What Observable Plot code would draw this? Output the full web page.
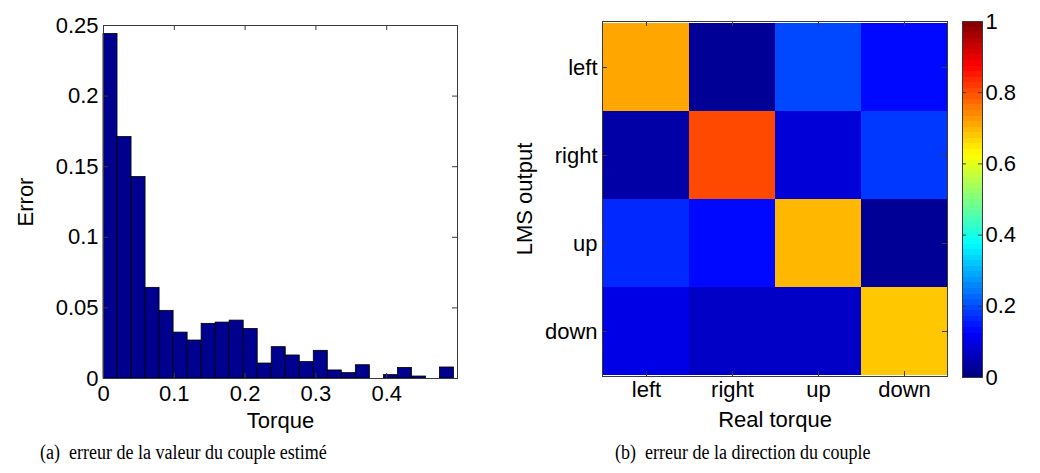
<!DOCTYPE html>
<html>
<head>
<meta charset="utf-8">
<script src="https://cdn.jsdelivr.net/npm/d3@7"></script>
<script src="https://cdn.jsdelivr.net/npm/@observablehq/plot@0.6"></script>
<style>
  html, body { margin: 0; padding: 0; background: #fff; }
  #root { position: relative; width: 1040px; height: 473px; overflow: hidden; font-family: "Liberation Sans", Arial, sans-serif; }
  #root svg { position: absolute; top: 0; overflow: visible; }
  .cap { position: absolute; top: 441px; font-family: "Liberation Serif", "Times New Roman", serif; font-size: 20px; color: #000; white-space: nowrap; transform: scaleX(0.9); transform-origin: 0 0; }
</style>
</head>
<body>
<div id="root"></div>
<script>
// ---------- Data ----------
// (a) histogram: error per torque bin (25 bins)
const binWidth = 0.0198;
const histErrors = [0.244, 0.171, 0.1427, 0.0642, 0.0479, 0.0325, 0.0269, 0.0387, 0.0396, 0.0410,
                    0.0351, 0.0106, 0.0222, 0.0163, 0.0116, 0.0196, 0.0057, 0.0038, 0.0094, 0.0,
                    0.0024, 0.0075, 0.0014, 0.0, 0.0078];
const histXTicks = [0, 0.1, 0.2, 0.3, 0.4];
const histYTicks = [0, 0.05, 0.1, 0.15, 0.2, 0.25];

// (b) confusion matrix: rows = LMS output, columns = real torque
const directions = ["left", "right", "up", "down"];
const lmsLeft  = [0.71, 0.02, 0.19, 0.14];
const lmsRight = [0.04, 0.81, 0.08, 0.18];
const lmsUp    = [0.16, 0.14, 0.70, 0.03];
const lmsDown  = [0.10, 0.07, 0.07, 0.68];
const colorbarTicks = [0, 0.2, 0.4, 0.6, 0.8, 1];

const captionA = "(a)\u2002erreur de la valeur du couple estimé";
const captionB = "(b)\u2002erreur de la direction du couple";

// ---------- helpers ----------
const clamp = v => Math.max(0, Math.min(1, v));
const N = 64;
function jet(t) {
  const q = (Math.min(N - 1, Math.floor(t * N)) + 0.5) / N;
  const r = clamp(1.5 - Math.abs(4 * q - 3));
  const g = clamp(1.5 - Math.abs(4 * q - 2));
  const b = clamp(1.5 - Math.abs(4 * q - 1));
  return d3.rgb(r * 255, g * 255, b * 255).toString();
}
const FONT = "Liberation Sans, Arial, sans-serif";
const FS = "22px";
const frameColor = "#3a3a3a";
const root = document.getElementById("root");

// ---------- (a) histogram ----------
const histData = histErrors.map((e, i) => ({x1: i * binWidth, x2: (i + 1) * binWidth, err: e}));
const hW = 470, hH = 440, hML = 103, hMR = 13, hMT = 25, hMB = 62;
const hist = Plot.plot({
  width: hW, height: hH,
  marginLeft: hML, marginRight: hMR, marginTop: hMT, marginBottom: hMB,
  style: {fontFamily: FONT, fontSize: FS, color: "#000", background: "transparent", overflow: "visible"},
  x: {domain: [0, 0.5]},
  y: {domain: [0, 0.25]},
  marks: [
    Plot.rectY(histData, {x1: "x1", x2: "x2", y: "err", fill: "#00008f", stroke: "#000", strokeWidth: 0.8}),
    Plot.tickX(histXTicks, {x: d => d, insetTop: hH - hMT - hMB - 5, stroke: frameColor}),
    Plot.tickX(histXTicks, {x: d => d, insetBottom: hH - hMT - hMB - 5, stroke: frameColor}),
    Plot.tickY(histYTicks, {y: d => d, insetRight: hW - hML - hMR - 5, stroke: frameColor}),
    Plot.tickY(histYTicks, {y: d => d, insetLeft: hW - hML - hMR - 5, stroke: frameColor}),
    Plot.frame({stroke: frameColor}),
    Plot.axisX(histXTicks, {tickSize: 0, tickPadding: 7, tickFormat: d => String(d), label: "Torque", labelAnchor: "center", labelArrow: "none", labelOffset: 49, fontSize: FS}),
    Plot.axisY(histYTicks, {tickSize: 0, tickPadding: 5, tickFormat: d => String(d), label: "Error", labelAnchor: "center", labelArrow: "none", labelOffset: 86, fontSize: FS})
  ]
});
hist.style.left = "0px";
root.appendChild(hist);

// ---------- (b) heatmap ----------
const rows = [lmsLeft, lmsRight, lmsUp, lmsDown];
const cells = [];
rows.forEach((row, i) => row.forEach((v, j) => cells.push({lms: directions[i], real: directions[j], value: v})));
const mW = 470, mH = 440, mML = 112, mMR = 13, mMT = 21, mMB = 64;
const heat = Plot.plot({
  width: mW, height: mH,
  marginLeft: mML, marginRight: mMR, marginTop: mMT, marginBottom: mMB,
  style: {fontFamily: FONT, fontSize: FS, color: "#000", background: "transparent", overflow: "visible"},
  x: {domain: directions, padding: 0},
  y: {domain: directions, padding: 0},
  color: {type: "linear", domain: [0, 1], interpolate: jet},
  marks: [
    Plot.cell(cells, {x: "real", y: "lms", fill: "value", inset: 0}),
    Plot.tickX(directions, {x: d => d, insetTop: mH - mMT - mMB - 5, stroke: frameColor}),
    Plot.tickX(directions, {x: d => d, insetBottom: mH - mMT - mMB - 5, stroke: frameColor}),
    Plot.tickY(directions, {y: d => d, insetRight: mW - mML - mMR - 5, stroke: frameColor}),
    Plot.tickY(directions, {y: d => d, insetLeft: mW - mML - mMR - 5, stroke: frameColor}),
    Plot.frame({stroke: frameColor}),
    Plot.axisX({tickSize: 0, tickPadding: 5, label: "Real torque", labelAnchor: "center", labelArrow: "none", labelOffset: 50, fontSize: FS}),
    Plot.axisY({tickSize: 0, tickPadding: 5, label: "LMS output", labelAnchor: "center", labelArrow: "none", labelOffset: 86, fontSize: FS})
  ]
});
heat.style.left = "490px";
root.appendChild(heat);

// ---------- colorbar ----------
const levels = d3.range(N);
const cW = 90, cH = 440, cML = 12, cMR = 58, cMT = 21, cMB = 63;
const cbar = Plot.plot({
  width: cW, height: cH,
  marginLeft: cML, marginRight: cMR, marginTop: cMT, marginBottom: cMB,
  style: {fontFamily: FONT, fontSize: FS, color: "#000", background: "transparent", overflow: "visible"},
  x: {domain: [0, 1], axis: null},
  y: {domain: [0, 1]},
  color: {type: "linear", domain: [0, 1], interpolate: jet},
  marks: [
    Plot.rect(levels, {x1: 0, x2: 1, y1: d => d / N, y2: d => (d + 1) / N, fill: d => (d + 0.5) / N, shapeRendering: "crispEdges"}),
    Plot.tickY(colorbarTicks, {y: d => d, insetRight: cW - cML - cMR - 4, stroke: frameColor}),
    Plot.tickY(colorbarTicks, {y: d => d, insetLeft: cW - cML - cMR - 4, stroke: frameColor}),
    Plot.frame({stroke: frameColor}),
    Plot.axisY(colorbarTicks, {anchor: "right", tickSize: 0, tickPadding: 3, tickFormat: d => String(d), label: null, fontSize: FS})
  ]
});
cbar.style.left = "950px";
root.appendChild(cbar);

// ---------- captions ----------
const ca = document.createElement("div");
ca.className = "cap"; ca.style.left = "40px"; ca.textContent = captionA;
root.appendChild(ca);
const cb = document.createElement("div");
cb.className = "cap"; cb.style.left = "615px"; cb.textContent = captionB;
root.appendChild(cb);
</script>
</body>
</html>
